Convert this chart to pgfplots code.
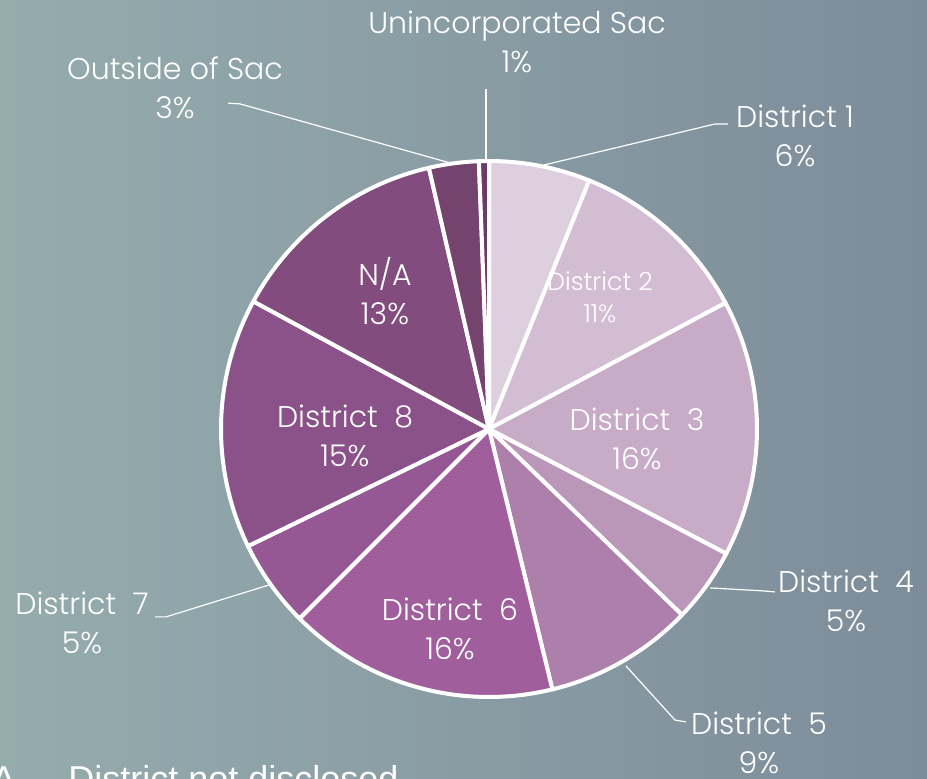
\documentclass[border=0pt]{standalone}
\usepackage{pgfplots}
\pgfplotsset{compat=1.18}
\usepackage{fontspec}
\setmainfont{Poppins}[UprightFont=* Light]
\newfontfamily\arialfont{Liberation Sans}
\definecolor{bgL}{HTML}{95ACAD}
\definecolor{bgR}{HTML}{7D8C9A}
\definecolor{cA}{HTML}{DDCFDD}
\definecolor{cB}{HTML}{D3BDD3}
\definecolor{cC}{HTML}{C8ABC7}
\definecolor{cD}{HTML}{BA96B9}
\definecolor{cE}{HTML}{AD7FAB}
\definecolor{cF}{HTML}{A05F9C}
\definecolor{cG}{HTML}{955894}
\definecolor{cH}{HTML}{8B528A}
\definecolor{cI}{HTML}{824C7E}
\definecolor{cJ}{HTML}{74446F}
\definecolor{cK}{HTML}{6A3A68}
\newcommand{\lbl}{\fontsize{15}{19.5}\selectfont}
\begin{document}
\begin{tikzpicture}[x=1pt,y=1pt]
\useasboundingbox (0,0) rectangle (463.5,389);
\clip (0,0) rectangle (463.5,389);
\fill[left color=bgL, right color=bgR] (0,0) rectangle (463.5,389);
\begin{axis}[hide axis, x=134pt, y=134pt, xmin=-1.3, xmax=1.3, ymin=-1.3, ymax=1.3,
  clip=false, anchor=origin, at={(244.5pt,174.5pt)},
  every axis plot/.append style={draw=white, line width=2pt, line join=round, samples=60, mark=none}]
% slices: domain = cumulative percent (start:end), clockwise from 12 o'clock
\addplot[fill=cA, domain=0:6.1]    ({cos(90-3.6*x)},{sin(90-3.6*x)}) -- (axis cs:0,0) -- cycle; % District 1
\addplot[fill=cB, domain=6.1:17.2] ({cos(90-3.6*x)},{sin(90-3.6*x)}) -- (axis cs:0,0) -- cycle; % District 2
\addplot[fill=cC, domain=17.2:32.7]({cos(90-3.6*x)},{sin(90-3.6*x)}) -- (axis cs:0,0) -- cycle; % District 3
\addplot[fill=cD, domain=32.7:37.2]({cos(90-3.6*x)},{sin(90-3.6*x)}) -- (axis cs:0,0) -- cycle; % District 4
\addplot[fill=cE, domain=37.2:46.2]({cos(90-3.6*x)},{sin(90-3.6*x)}) -- (axis cs:0,0) -- cycle; % District 5
\addplot[fill=cF, domain=46.2:62.5]({cos(90-3.6*x)},{sin(90-3.6*x)}) -- (axis cs:0,0) -- cycle; % District 6
\addplot[fill=cG, domain=62.5:67.8]({cos(90-3.6*x)},{sin(90-3.6*x)}) -- (axis cs:0,0) -- cycle; % District 7
\addplot[fill=cH, domain=67.8:82.9]({cos(90-3.6*x)},{sin(90-3.6*x)}) -- (axis cs:0,0) -- cycle; % District 8
\addplot[fill=cI, domain=82.9:96.4]({cos(90-3.6*x)},{sin(90-3.6*x)}) -- (axis cs:0,0) -- cycle; % N/A
\addplot[fill=cJ, domain=96.4:99.4]({cos(90-3.6*x)},{sin(90-3.6*x)}) -- (axis cs:0,0) -- cycle; % Outside of Sac
\addplot[fill=cK, domain=99.4:100] ({cos(90-3.6*x)},{sin(90-3.6*x)}) -- (axis cs:0,0) -- cycle; % Unincorporated Sac
% leader lines
\addplot[draw=white, line width=0.6pt] coordinates {(-0.011,1.27) (-0.011,1.0)};
\addplot[draw=white, line width=0.6pt] coordinates {(-0.974,1.216) (-0.929,1.213) (-0.146,0.993)};
\addplot[draw=white, line width=0.6pt] coordinates {(0.892,1.138) (0.843,1.138) (0.205,0.985)};
\addplot[draw=white, line width=0.6pt] coordinates {(0.825,-0.593) (1.022,-0.604) (1.067,-0.608)};
\addplot[draw=white, line width=0.6pt] coordinates {(0.511,-0.884) (0.694,-1.086) (0.735,-1.093)};
\addplot[draw=white, line width=0.6pt] coordinates {(-0.821,-0.582) (-1.205,-0.701) (-1.246,-0.701)};
\end{axis}
\begin{scope}[every node/.style={text=white, align=center, inner sep=0pt, font=\lbl}]
\node at (258.5,368) {Unincorporated Sac\\1\%};
\node at (87.5,345) {Outside of Sac\\3\%};
\node at (397.5,321) {District 1\\6\%};
\node[font=\fontsize{12.5}{16}\selectfont] at (300,240.5) {District 2\\11\%};
\node at (318.5,169.5) {District\ \ 3\\16\%};
\node at (423,88.5) {District\ \ 4\\5\%};
\node at (379.5,17.5) {District\ \ 5\\9\%};
\node at (225,74.5) {District\ \ 6\\16\%};
\node at (41,77.5) {District\ \ 7\\5\%};
\node at (172.5,171) {District\ \ 8\\15\%};
\node at (192.5,243.5) {N/A\\13\%};
\node[anchor=base east, font=\arialfont\fontsize{18}{20}\selectfont] at (26,-6.5) {N/A \,–};
\node[anchor=base west, font=\arialfont\fontsize{18}{20}\selectfont] at (34,-6.5) {District not disclosed};
\end{scope}
\end{tikzpicture}
\end{document}
